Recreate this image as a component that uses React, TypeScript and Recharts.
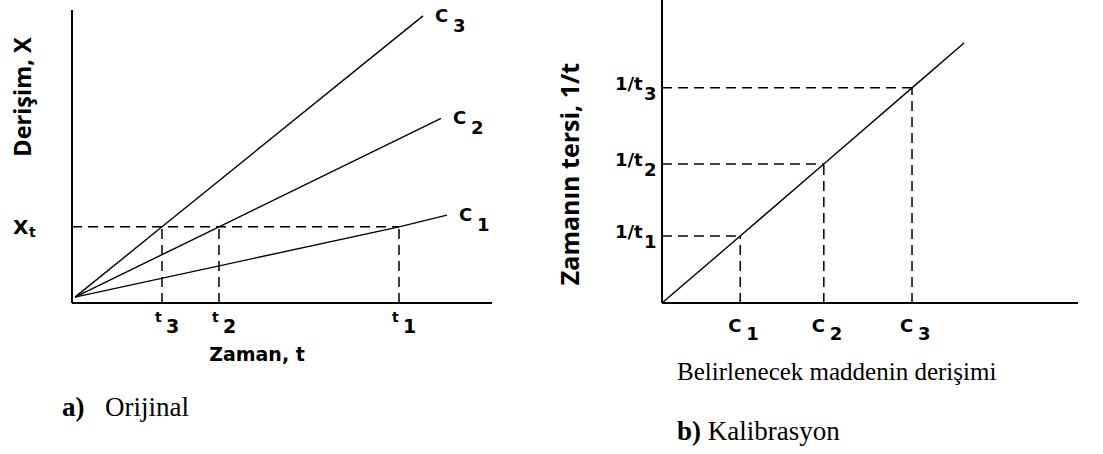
import React from 'react';
import { LineChart, Line, XAxis, YAxis, ReferenceLine, LabelList } from 'recharts';

// (a) concentration vs. time for three standards
const XT = 26;
const timeTicks = [30, 49, 109];
const timeSubs = ['3', '2', '1'];
const originPoint = { t: 1, x: 2 };
const c3Points = [originPoint, { t: 30, x: 26 }, { t: 117, x: 98 }];
const c2Points = [originPoint, { t: 49, x: 26 }, { t: 123, x: 63 }];
const c1Points = [originPoint, { t: 109, x: 26 }, { t: 125, x: 30 }];

// (b) calibration: 1/t against concentration
const concTicks = [18.8, 38.9, 60.1];
const concSubs = ['1', '2', '3'];
const invTimes = [22.1, 45.9, 71.0];
const invSubs = ['1', '2', '3'];
const calibStart = { c: 0, v: 0 };
const calibEnd = { c: 72.6, v: 85.8 };
const calibPoints = [calibStart, ...concTicks.map((c, i) => ({ c, v: invTimes[i] })), calibEnd];

const SANS = 'DejaVu Sans';
const TITLE = 'Open Sans';
const SERIF = 'Liberation Serif';
const DASH = '10 6';
const axisStyle = { stroke: '#000', strokeWidth: 2 };

const TimeTick = (props: any) => {
  const { x, y, payload } = props;
  const sub = timeSubs[timeTicks.indexOf(payload.value)];
  return (
    <text fontFamily={SANS} fontWeight="bold" fill="#000">
      <tspan x={x - 7} y={y + 19} fontSize={14}>t</tspan>
      <tspan x={x + 4} y={y + 30} fontSize={19}>{sub}</tspan>
    </text>
  );
};

const XtTick = (props: any) => {
  const { y } = props;
  return (
    <text fontFamily={SANS} fontWeight="bold" fill="#000">
      <tspan x={13} y={y + 7} fontSize={20}>X</tspan>
      <tspan x={29} y={y + 10} fontSize={14}>t</tspan>
    </text>
  );
};

const ConcTick = (props: any) => {
  const { x, y, payload } = props;
  const sub = concSubs[concTicks.indexOf(payload.value)];
  return (
    <text fontFamily={SANS} fontWeight="bold" fill="#000">
      <tspan x={x - 12} y={y + 29} fontSize={18}>C</tspan>
      <tspan x={x + 6} y={y + 37} fontSize={18}>{sub}</tspan>
    </text>
  );
};

const InvTick = (props: any) => {
  const { x, y, payload } = props;
  const sub = invSubs[invTimes.indexOf(payload.value)];
  return (
    <text fontFamily={SANS} fontWeight="bold" fill="#000">
      <tspan x={x - 47} y={y + 2} fontSize={18}>1/t</tspan>
      <tspan x={x - 18} y={y + 12} fontSize={18}>{sub}</tspan>
    </text>
  );
};

// "C n" tag drawn next to the last point of a line
const endTag = (sub: string, points: { t: number; x: number }[]) => (p: any) => {
  const last = points[points.length - 1];
  if (p.index !== points.length - 1 && p.value !== last.x) return null;
  return (
    <text fontFamily={SANS} fontWeight="bold" fill="#000">
      <tspan x={p.x + 12} y={p.y + 6} fontSize={18}>C</tspan>
      <tspan x={p.x + 30} y={p.y + 16} fontSize={18}>{sub}</tspan>
    </text>
  );
};

const lineProps = {
  type: 'linear' as const,
  stroke: '#000',
  strokeWidth: 1.4,
  dot: false,
  activeDot: false,
  isAnimationActive: false,
};

const OriginalChart = () => (
  <LineChart width={520} height={454} margin={{ top: 10, right: 28, left: 0, bottom: 0 }}>
    <XAxis
      type="number"
      dataKey="t"
      domain={[0, 140]}
      ticks={timeTicks}
      interval={0}
      tick={<TimeTick />}
      tickLine={false}
      tickSize={0}
      tickMargin={0}
      height={151}
      axisLine={axisStyle}
      label={{
        content: (p: any) => (
          <text x={257} y={p.viewBox.y + 58} textAnchor="middle" fontFamily={SANS} fontWeight="bold" fontSize={19} fill="#000">
            Zaman, t
          </text>
        ),
      }}
    />
    <YAxis
      type="number"
      domain={[0, 100]}
      ticks={[XT]}
      interval={0}
      tick={<XtTick />}
      tickLine={false}
      tickSize={0}
      tickMargin={0}
      width={72}
      axisLine={axisStyle}
      label={{
        content: () => (
          <text x={0} y={0} transform="translate(31 97) rotate(-90)" textAnchor="middle" fontFamily={TITLE} fontWeight={700} fontSize={23.5} fill="#000">
            Derişim, X
          </text>
        ),
      }}
    />
    <ReferenceLine segment={[{ x: 0, y: XT }, { x: timeTicks[2], y: XT }]} stroke="#000" strokeWidth={1.5} strokeDasharray={DASH} />
    {timeTicks.map((t) => (
      <ReferenceLine key={t} segment={[{ x: t, y: 0 }, { x: t, y: XT }]} stroke="#000" strokeWidth={1.5} strokeDasharray={DASH} />
    ))}
    <Line {...lineProps} data={c3Points} dataKey="x">
      <LabelList dataKey="x" content={endTag('3', c3Points)} />
    </Line>
    <Line {...lineProps} data={c2Points} dataKey="x">
      <LabelList dataKey="x" content={endTag('2', c2Points)} />
    </Line>
    <Line {...lineProps} data={c1Points} dataKey="x">
      <LabelList dataKey="x" content={endTag('1', c1Points)} />
    </Line>
  </LineChart>
);

// chart sits at x=540; plot area starts at 662
const CalibrationChart = () => (
  <LineChart width={563} height={454} margin={{ top: 0, right: 25, left: 0, bottom: 0 }}>
    <XAxis
      type="number"
      dataKey="c"
      domain={[0, 100]}
      ticks={concTicks}
      interval={0}
      tick={<ConcTick />}
      tickLine={false}
      tickSize={0}
      tickMargin={0}
      height={151}
      axisLine={axisStyle}
      label={{
        content: (p: any) => (
          <text x={137} y={p.viewBox.y + 77} fontFamily={SERIF} fontSize={25} fill="#000">
            Belirlenecek maddenin derişimi
          </text>
        ),
      }}
    />
    <YAxis
      type="number"
      domain={[0, 100]}
      ticks={invTimes}
      interval={0}
      tick={<InvTick />}
      tickLine={false}
      tickSize={0}
      tickMargin={0}
      width={122}
      axisLine={axisStyle}
      label={{
        content: () => (
          <text x={0} y={0} transform="translate(39 174) rotate(-90)" textAnchor="middle" fontFamily={TITLE} fontWeight={700} fontSize={25} fill="#000">
            Zamanın tersi, 1/t
          </text>
        ),
      }}
    />
    {concTicks.map((c, i) => (
      <ReferenceLine key={'h' + c} segment={[{ x: 0, y: invTimes[i] }, { x: c, y: invTimes[i] }]} stroke="#000" strokeWidth={1.5} strokeDasharray={DASH} />
    ))}
    {concTicks.map((c, i) => (
      <ReferenceLine key={'v' + c} segment={[{ x: c, y: 0 }, { x: c, y: invTimes[i] }]} stroke="#000" strokeWidth={1.5} strokeDasharray={DASH} />
    ))}
    <Line {...lineProps} data={calibPoints} dataKey="v" />
  </LineChart>
);

const caption = (left: number, top: number): React.CSSProperties => ({
  position: 'absolute',
  left,
  top,
  fontFamily: SERIF,
  fontSize: 27,
  lineHeight: '27px',
  color: '#000',
  whiteSpace: 'pre',
});

export default function App() {
  return (
    <div style={{ position: 'absolute', left: 0, top: 0, width: 1103, height: 454, background: '#fff', overflow: 'hidden' }}>
      <div style={{ position: 'absolute', left: 0, top: 0 }}>
        <OriginalChart />
      </div>
      <div style={{ position: 'absolute', left: 540, top: 0 }}>
        <CalibrationChart />
      </div>
      <div style={caption(62, 394)}>
        <b>a)</b>
      </div>
      <div style={caption(105, 394)}>Orijinal</div>
      <div style={caption(677, 418)}>
        <b>b)</b> Kalibrasyon
      </div>
    </div>
  );
}
